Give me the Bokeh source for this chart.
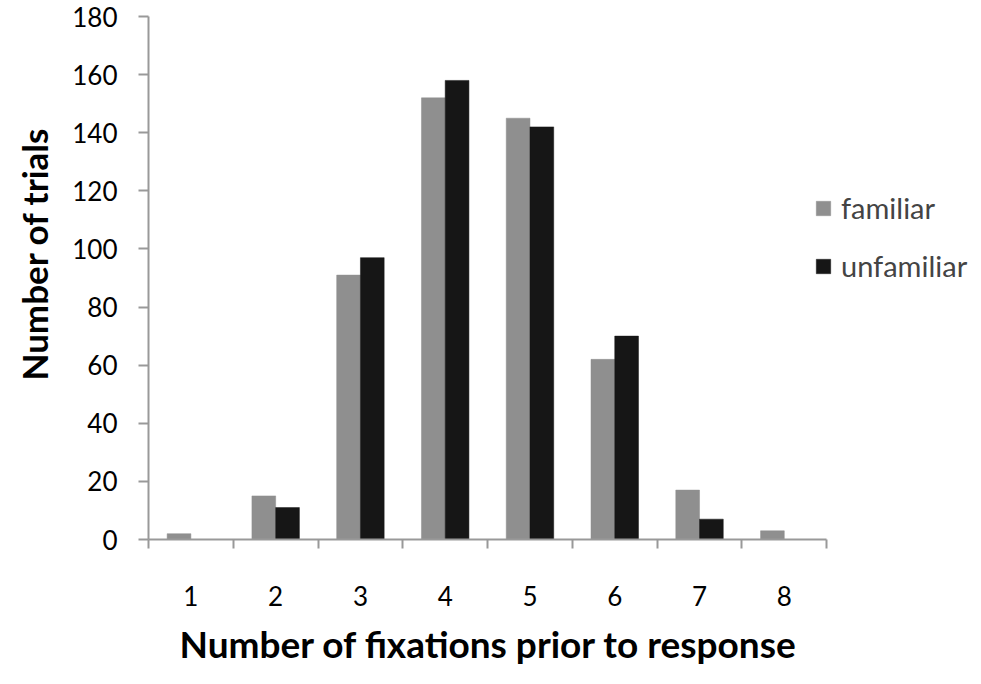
from bokeh.plotting import figure
from bokeh.models import (Range1d, FixedTicker, Legend, LegendItem, ColumnDataSource, Title)
from bokeh.transform import dodge
from bokeh.embed import file_html
from bokeh.resources import INLINE

# ---- data ----
fixations = [1, 2, 3, 4, 5, 6, 7, 8]
familiar = [2, 15, 91, 152, 145, 62, 17, 3]
unfamiliar = [0, 11, 97, 158, 142, 70, 7, 0]
y_ticks = [0, 20, 40, 60, 80, 100, 120, 140, 160, 180]
x_label = "Number of fixations prior to response"
y_label = "Number of trials"
series_names = ["familiar", "unfamiliar"]

FONT = "Lato"
AXIS_GREY = "#999999"

W, H = 973, 676
LEFT, TOP, BOTTOM, RIGHT = 147, 16, 135, 0
AXIS_END_PX = 826  # where category 8 ends on screen

frame_w = W - LEFT - RIGHT
cat_px = (AXIS_END_PX - LEFT) / len(fixations)
x_end = 0.5 + frame_w / cat_px

src = ColumnDataSource(dict(x=fixations, familiar=familiar, unfamiliar=unfamiliar))

p = figure(width=W, height=H, output_backend="svg", toolbar_location=None,
           x_range=Range1d(0.5, x_end), y_range=Range1d(0, 180),
           min_border_left=LEFT, min_border_right=RIGHT, min_border_top=TOP,
           min_border_bottom=BOTTOM)
p.outline_line_color = None
p.grid.visible = False
p.background_fill_color = "white"
p.border_fill_color = "white"

r1 = p.vbar(x=dodge("x", -0.14, range=p.x_range), top="familiar", width=0.28,
            source=src, fill_color="#8f8f8f", line_color="#8f8f8f", line_width=0.5)
r2 = p.vbar(x=dodge("x", 0.14, range=p.x_range), top="unfamiliar", width=0.28,
            source=src, fill_color="#161616", line_color="#161616", line_width=0.5)

# x axis: tick marks at category boundaries (minor), labels at centres
xa = p.xaxis[0]
xa.bounds = (0.5, len(fixations) + 0.5)
xa.ticker = FixedTicker(ticks=fixations, minor_ticks=[i + 0.5 for i in range(0, 9)])
xa.major_tick_out = 0
xa.major_tick_in = 0
xa.minor_tick_out = 9
xa.minor_tick_in = 0
xa.minor_tick_line_color = AXIS_GREY
xa.minor_tick_line_width = 2
xa.axis_line_color = AXIS_GREY
xa.axis_line_width = 2
xa.major_label_text_font = FONT
xa.major_label_text_font_size = "26px"
xa.major_label_text_color = "black"
xa.major_label_standoff = 37

ya = p.yaxis[0]
ya.ticker = FixedTicker(ticks=y_ticks)
ya.minor_tick_line_color = None
ya.major_tick_out = 10
ya.major_tick_in = 0
ya.major_tick_line_color = AXIS_GREY
ya.major_tick_line_width = 2
ya.axis_line_color = AXIS_GREY
ya.axis_line_width = 2
ya.major_label_text_font = FONT
ya.major_label_text_font_size = "26px"
ya.major_label_text_color = "black"
ya.major_label_standoff = 21

# axis titles (as titles so they can be positioned like the original)
xt = Title(text=x_label, align="left", offset=31, standoff=21,
           vertical_align="bottom",
           text_font=FONT, text_font_style="bold", text_font_size="37px",
           text_color="black")
p.add_layout(xt, "below")
yt = Title(text=y_label, align="left", offset=159, standoff=25,
           vertical_align="top",
           text_font=FONT, text_font_style="bold", text_font_size="35px",
           text_color="black")
p.add_layout(yt, "left")

legend = Legend(items=[LegendItem(label=series_names[0], renderers=[r1]),
                       LegendItem(label=series_names[1], renderers=[r2])],
                location=(666, 256), padding=0, margin=0, spacing=23,
                glyph_width=18, glyph_height=18, label_standoff=9,
                label_text_font=FONT, label_text_font_size="29px",
                border_line_color=None, background_fill_alpha=0)
p.add_layout(legend)

open("out.html", "w").write(file_html(p, INLINE))
